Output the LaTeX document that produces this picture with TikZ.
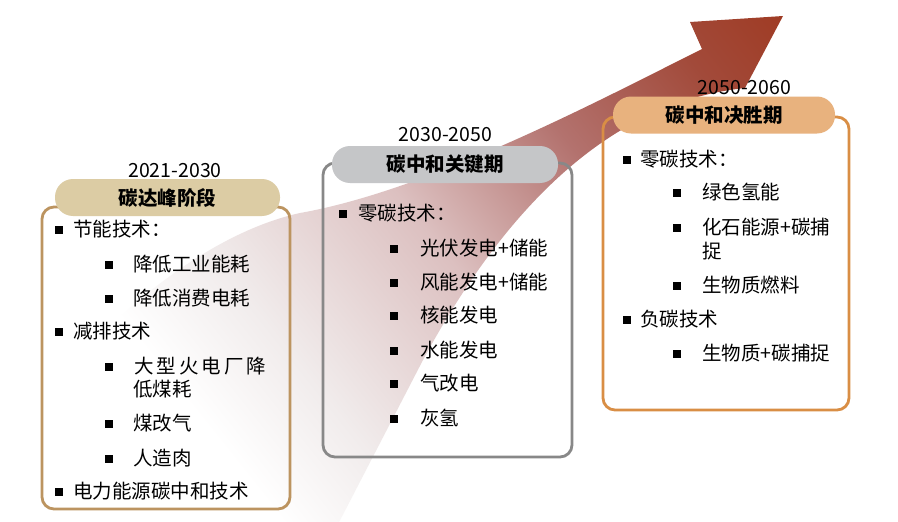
\documentclass[tikz,border=0pt]{standalone}
\usepackage{fontspec}
\setmainfont{Noto Sans CJK SC}
\definecolor{ash1}{HTML}{F1ECEC}
\definecolor{ash2}{HTML}{DCC0C0}
\definecolor{ash3}{HTML}{B3726E}
\definecolor{ash4}{HTML}{A24A3A}
\definecolor{ash5}{HTML}{9F3A22}
\definecolor{lframe}{HTML}{BC9460}
\definecolor{mframe}{HTML}{888888}
\definecolor{rframe}{HTML}{D98E45}
\definecolor{lpill}{HTML}{DCCCA4}
\definecolor{mpill}{HTML}{C5C6C8}
\definecolor{rpill}{HTML}{E8B27E}
\pgfdeclarehorizontalshading{arrowshade}{100bp}{color(0bp)=(white); color(36bp)=(white); color(42bp)=(ash1); color(52bp)=(ash2); color(61bp)=(ash3); color(69bp)=(ash4); color(75bp)=(ash5); color(100bp)=(ash5)}
\tikzset{
  frame/.style={draw=#1, line width=2.8pt, rounded corners=12pt, inner sep=0pt, fill=none},
  pill/.style={fill=#1, draw=none, rounded corners=18pt, inner sep=0pt, minimum height=37pt, font=\fontsize{19.5}{22}\selectfont\bfseries},
  txt/.style={anchor=base west, inner sep=0pt, font=\fontsize{19.5}{22}\selectfont},
  yr/.style={anchor=base, inner sep=0pt, font=\fontsize{19.5}{22}\selectfont},
  bul/.style={fill=black, draw=none, inner sep=0pt, minimum size=8.5pt}
}
\newcommand{\gp}{\kern3pt}
\begin{document}
\begin{tikzpicture}[x=1pt,y=1pt]
\useasboundingbox (0,0) rectangle (898,-522);
\fill[white] (0,0) rectangle (898,-522);
% big shaded arrow
\begin{scope}
  \clip (783,-16) -- (690,-22) -- (702,-49)
    .. controls (600,-100) and (430,-190) .. (300,-213)
    .. controls (200,-235) and (90,-330) .. (20,-430)
    -- (20,-545) -- (335,-545) -- (335,-530) -- (423,-360)
    .. controls (520,-180) and (630,-100) .. (745,-88) -- cycle;
  \begin{scope}[transform canvas={shift={(150,-520)}, rotate=38.5}]
    \shade[shading=arrowshade] (-100,-500) rectangle (820,500);
  \end{scope}
\end{scope}
% frames
\node[frame=lframe, minimum width=248pt, minimum height=302pt] (lbox) at (166,-358) {};
\node[frame=mframe, minimum width=249pt, minimum height=294pt] (mbox) at (447.5,-310) {};
\node[frame=rframe, minimum width=246pt, minimum height=293pt] (rbox) at (726,-263.5) {};
% pills
\node[pill=lpill, minimum width=225pt] (lpl) at (167.5,-197.5) {碳达峰阶段};
\node[pill=mpill, minimum width=226pt] (mpl) at (445,-164.5) {碳中和关键期};
\node[pill=rpill, minimum width=222pt] (rpl) at (724,-115) {碳中和决胜期};
% years
\node[yr] (lyr) at (175,-177) {2021-2030};
\node[yr] (myr) at (445.5,-141) {2030-2050};
\node[yr] (ryr) at (744.5,-94) {2050-2060};
% left box items
\node[bul] (lb1) at (59,-230) {};
\node[txt] (lt1) at (73,-236.4) {节能技术：};
\node[bul] (lb2) at (109,-265) {};
\node[txt] (lt2) at (133,-271.4) {降低工业能耗};
\node[bul] (lb3) at (109,-299) {};
\node[txt] (lt3) at (133,-305.4) {降低消费电耗};
\node[bul] (lb4) at (59,-332) {};
\node[txt] (lt4) at (73,-338.4) {减排技术};
\node[bul] (lb5) at (109,-367) {};
\node[txt] (lt5) at (134,-373.4) {大\gp 型\gp 火\gp 电\gp 厂\gp 降};
\node[txt] (lt5b) at (133,-396.4) {低煤耗};
\node[bul] (lb6) at (109,-424) {};
\node[txt] (lt6) at (133,-430.4) {煤改气};
\node[bul] (lb7) at (109,-459) {};
\node[txt] (lt7) at (133,-465.4) {人造肉};
\node[bul] (lb8) at (59,-492) {};
\node[txt] (lt8) at (73,-498.4) {电力能源碳中和技术};
% middle box items
\node[bul] (mb1) at (343,-214) {};
\node[txt] (mt1) at (358,-220.4) {零碳技术：};
\node[bul] (mb2) at (394,-249) {};
\node[txt] (mt2) at (420,-255.4) {光伏发电+储能};
\node[bul] (mb3) at (394,-283) {};
\node[txt] (mt3) at (420,-289.4) {风能发电+储能};
\node[bul] (mb4) at (394,-316) {};
\node[txt] (mt4) at (420,-322.4) {核能发电};
\node[bul] (mb5) at (394,-351) {};
\node[txt] (mt5) at (420,-357.4) {水能发电};
\node[bul] (mb6) at (394,-384) {};
\node[txt] (mt6) at (420,-390.4) {气改电};
\node[bul] (mb7) at (394,-419) {};
\node[txt] (mt7) at (420,-425.4) {灰氢};
% right box items
\node[bul] (rb1) at (627,-160) {};
\node[txt] (rt1) at (640,-166.4) {零碳技术：};
\node[bul] (rb2) at (677,-193) {};
\node[txt] (rt2) at (702,-199.4) {绿色氢能};
\node[bul] (rb3) at (677,-228) {};
\node[txt] (rt3) at (702,-234.4) {化石能源+碳捕};
\node[txt] (rt3b) at (702,-258.4) {捉};
\node[bul] (rb4) at (677,-286) {};
\node[txt] (rt4) at (702,-292.4) {生物质燃料};
\node[bul] (rb5) at (627,-320) {};
\node[txt] (rt5) at (640,-326.4) {负碳技术};
\node[bul] (rb6) at (677,-354) {};
\node[txt] (rt6) at (702,-360.4) {生物质+碳捕捉};
\end{tikzpicture}
\end{document}
